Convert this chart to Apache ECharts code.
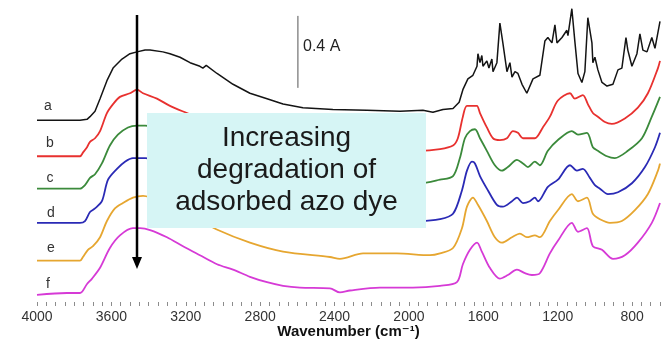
<!DOCTYPE html>
<html>
<head>
<meta charset="utf-8">
<script src="https://cdn.jsdelivr.net/npm/echarts@6/dist/echarts.min.js"></script>
<style>
  html, body { margin: 0; padding: 0; background: #fff; }
  #chart { width: 662px; height: 340px; }
</style>
</head>
<body>
<div id="chart"></div>
<script>
// FTIR spectra of the catalyst surface, a (fresh dye) to f (most degraded).
// Each spectrum: [wavenumber (cm-1), absorbance incl. stacking offset]
const specA = [[4000,1.04],[3850,1.04],[3769,1.04],[3731,1.045],[3715,1.06],[3688,1.09],[3661,1.16],[3624,1.26],[3591,1.33],[3543,1.38],[3500,1.41],[3462,1.42],[3419,1.43],[3392,1.43],[3323,1.42],[3285,1.41],[3231,1.39],[3177,1.36],[3124,1.34],[3108,1.33],[3090,1.345],[3081,1.34],[3032,1.30],[2946,1.24],[2855,1.19],[2763,1.16],[2677,1.13],[2570,1.11],[2409,1.10],[2226,1.095],[2048,1.09],[1925,1.095],[1871,1.085],[1817,1.10],[1763,1.105],[1753,1.11],[1730,1.14],[1710,1.21],[1683,1.27],[1656,1.29],[1634,1.34],[1629,1.41],[1618,1.36],[1608,1.40],[1602,1.34],[1581,1.37],[1570,1.33],[1554,1.38],[1548,1.31],[1527,1.36],[1511,1.58],[1495,1.47],[1473,1.31],[1457,1.36],[1446,1.28],[1430,1.31],[1414,1.30],[1392,1.24],[1366,1.19],[1333,1.27],[1296,1.29],[1269,1.48],[1253,1.50],[1231,1.47],[1215,1.57],[1204,1.47],[1177,1.50],[1151,1.54],[1145,1.51],[1124,1.66],[1108,1.48],[1091,1.30],[1070,1.25],[1054,1.31],[1038,1.61],[1016,1.47],[1011,1.36],[1000,1.39],[984,1.32],[962,1.25],[935,1.23],[903,1.24],[876,1.32],[855,1.33],[833,1.50],[823,1.43],[801,1.34],[774,1.41],[758,1.52],[742,1.43],[720,1.42],[694,1.50],[677,1.44],[650,1.59]];
const specB = [[4000,0.84],[3769,0.84],[3753,0.86],[3731,0.89],[3715,0.92],[3688,0.94],[3661,0.98],[3624,1.08],[3591,1.13],[3554,1.17],[3500,1.19],[3462,1.21],[3430,1.19],[3355,1.16],[3285,1.12],[3194,1.08],[3100,1.04],[3000,1.00],[2850,0.95],[2700,0.92],[2500,0.90],[2300,0.89],[2100,0.88],[1941,0.87],[1833,0.88],[1763,0.90],[1737,0.94],[1710,1.06],[1688,1.12],[1645,1.12],[1634,1.12],[1618,1.08],[1581,1.00],[1548,0.94],[1511,0.93],[1473,0.94],[1441,0.98],[1414,0.97],[1387,0.94],[1360,0.94],[1323,0.94],[1280,1.00],[1242,1.06],[1199,1.15],[1134,1.19],[1108,1.16],[1065,1.18],[1038,1.13],[1011,1.08],[984,1.06],[946,1.03],[909,1.02],[839,1.05],[769,1.11],[715,1.19],[661,1.33],[650,1.37]];
const specC = [[4000,0.66],[3769,0.66],[3742,0.68],[3715,0.72],[3688,0.74],[3651,0.80],[3608,0.90],[3565,0.96],[3511,1.00],[3462,1.01],[3419,1.01],[3300,0.97],[3150,0.91],[3000,0.85],[2800,0.79],[2600,0.75],[2400,0.73],[2200,0.72],[2000,0.71],[1941,0.69],[1833,0.71],[1763,0.73],[1726,0.83],[1699,0.94],[1672,0.98],[1645,0.99],[1618,0.94],[1581,0.87],[1538,0.79],[1500,0.76],[1468,0.78],[1419,0.82],[1387,0.80],[1360,0.78],[1323,0.81],[1296,0.79],[1253,0.87],[1199,0.93],[1124,0.98],[1091,0.96],[1043,0.97],[1011,0.89],[984,0.87],[935,0.84],[893,0.83],[823,0.87],[747,0.94],[694,1.06],[650,1.17]];
const specD = [[4000,0.47],[3769,0.47],[3742,0.48],[3715,0.53],[3688,0.55],[3651,0.59],[3618,0.71],[3570,0.77],[3527,0.81],[3484,0.83],[3419,0.83],[3300,0.79],[3150,0.73],[3000,0.67],[2800,0.60],[2600,0.55],[2400,0.53],[2200,0.52],[2000,0.51],[1941,0.48],[1833,0.49],[1763,0.52],[1715,0.65],[1688,0.76],[1661,0.81],[1645,0.80],[1618,0.73],[1575,0.65],[1527,0.57],[1495,0.56],[1446,0.59],[1419,0.61],[1387,0.58],[1350,0.59],[1323,0.61],[1306,0.59],[1253,0.67],[1199,0.71],[1134,0.79],[1097,0.76],[1065,0.77],[1027,0.72],[1000,0.68],[973,0.66],[930,0.63],[876,0.64],[801,0.69],[731,0.78],[677,0.89],[650,0.97]];
const specE = [[4000,0.26],[3769,0.26],[3753,0.28],[3726,0.32],[3699,0.34],[3661,0.39],[3624,0.48],[3581,0.55],[3538,0.58],[3484,0.61],[3430,0.62],[3300,0.57],[3150,0.50],[3027,0.43],[2855,0.36],[2677,0.31],[2425,0.28],[2371,0.27],[2247,0.30],[2065,0.30],[1887,0.29],[1833,0.30],[1763,0.33],[1715,0.44],[1688,0.56],[1656,0.61],[1629,0.57],[1581,0.48],[1538,0.39],[1500,0.36],[1446,0.39],[1403,0.41],[1366,0.39],[1323,0.40],[1296,0.39],[1242,0.48],[1199,0.54],[1124,0.63],[1091,0.59],[1043,0.61],[1011,0.52],[973,0.49],[919,0.47],[855,0.48],[785,0.54],[715,0.63],[661,0.76],[650,0.80]];
const specF = [[4000,0.07],[3839,0.08],[3769,0.08],[3731,0.13],[3704,0.16],[3661,0.22],[3608,0.33],[3554,0.40],[3484,0.44],[3446,0.44],[3392,0.43],[3301,0.39],[3215,0.34],[3124,0.29],[3032,0.24],[2946,0.21],[2855,0.17],[2763,0.14],[2677,0.12],[2586,0.11],[2425,0.106],[2371,0.083],[2317,0.094],[2156,0.11],[1979,0.11],[1833,0.12],[1742,0.14],[1710,0.24],[1672,0.32],[1634,0.36],[1608,0.31],[1565,0.22],[1511,0.16],[1468,0.18],[1419,0.21],[1376,0.19],[1339,0.18],[1296,0.19],[1242,0.30],[1199,0.37],[1124,0.47],[1091,0.42],[1043,0.44],[1011,0.34],[962,0.32],[903,0.27],[839,0.29],[769,0.36],[694,0.47],[650,0.58]];

const sampleNames = ['a', 'b', 'c', 'd', 'e', 'f'];
const spectra = [specA, specB, specC, specD, specE, specF];
const lineColors = ['#141414', '#e8312f', '#3b8a3b', '#2a2ab5', '#e6a630', '#d63ad6'];

// Wavenumber tick labels and the 0.4 A scale bar
const tickLabels = [4000, 3600, 3200, 2800, 2400, 2000, 1600, 1200, 800];
const scaleBar = [[2597, 1.22], [2597, 1.62]];
const scaleBarText = '0.4 A';
const noteLines = ['Increasing', 'degradation of', 'adsorbed azo dye'];

const minorTicks = [];
for (let w = 4000; w >= 650; w -= 50) minorTicks.push(w);

const chart = echarts.init(document.getElementById('chart'), null, { renderer: 'canvas' });

const FONT = '"Liberation Sans", Arial, "DejaVu Sans", sans-serif';

const series = spectra.map((s, i) => ({
  name: sampleNames[i],
  type: 'line',
  data: s,
  showSymbol: false,
  smooth: i === 0 ? false : 0.3,
  z: 5,
  lineStyle: { color: lineColors[i], width: i === 0 ? 1.5 : 1.8 },
  emphasis: { disabled: true }
}));

series.push({
  name: 'scale',
  type: 'line',
  data: scaleBar,
  showSymbol: false,
  z: 4,
  lineStyle: { color: '#555', width: 1 },
  emphasis: { disabled: true }
});

chart.setOption({
  animation: false,
  backgroundColor: '#fff',
  grid: { left: 37, right: 2, top: -3, bottom: 38, containLabel: false, outerBoundsMode: 'none' },
  xAxis: {
    type: 'value',
    min: 650,
    max: 4000,
    inverse: true,
    axisLine: { show: false },
    splitLine: { show: false },
    axisTick: {
      show: true,
      customValues: minorTicks,
      length: 4,
      lineStyle: { color: '#8c8c8c', width: 1 }
    },
    axisLabel: {
      customValues: tickLabels,
      formatter: v => String(v),
      margin: 8,
      fontFamily: FONT,
      fontSize: 14,
      color: '#333'
    },
    name: 'Wavenumber (cm\u207B\u00B9)',
    nameLocation: 'middle',
    nameGap: 22,
    nameMoveOverlap: false,
    nameTextStyle: { fontFamily: FONT, fontSize: 15, fontWeight: 'bold', color: '#111' }
  },
  yAxis: {
    type: 'value',
    min: 0.03,
    max: 1.725,
    show: false
  },
  series: series,
  graphic: [
    // highlight box with annotation
    {
      type: 'rect', z: 100,
      shape: { x: 147, y: 113, width: 279, height: 115 },
      style: { fill: '#d6f5f5' }
    },
    {
      type: 'text', z: 101,
      x: 286.5, y: 170.5,
      style: {
        text: noteLines.join('\n'),
        font: '28px ' + FONT,
        lineHeight: 32,
        fill: '#1a1a1a',
        align: 'center',
        verticalAlign: 'middle'
      }
    },
    // downward arrow
    {
      type: 'line', z: 100,
      shape: { x1: 137, y1: 15, x2: 137, y2: 260 },
      style: { stroke: '#000', lineWidth: 2.5 }
    },
    {
      type: 'polygon', z: 100,
      shape: { points: [[132, 257], [142, 257], [137, 269]] },
      style: { fill: '#000' }
    },
    // scale bar label
    {
      type: 'text', z: 100,
      x: 303, y: 47,
      style: { text: scaleBarText, font: '16px ' + FONT, fill: '#222', verticalAlign: 'middle' }
    }
  ].concat(sampleNames.map((n, i) => ({
    type: 'text', z: 100,
    x: [48, 50, 50, 51, 51, 48][i],
    y: [106, 143, 178, 213, 248, 284][i],
    style: { text: n, font: '14px ' + FONT, fill: '#333', align: 'center', verticalAlign: 'middle' }
  })))
});
</script>
</body>
</html>
